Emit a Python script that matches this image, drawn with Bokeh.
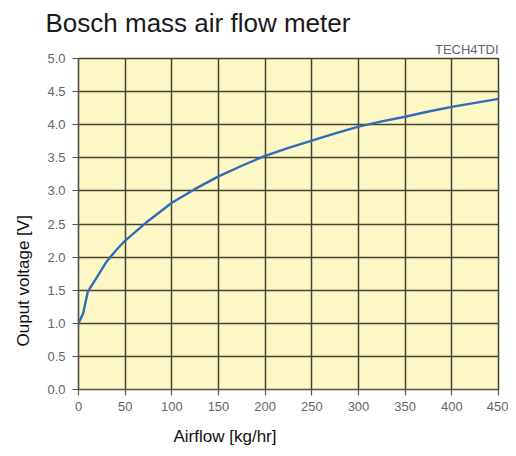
from bokeh.plotting import figure
from bokeh.models import Title, FixedTicker, NumeralTickFormatter, Range1d
from bokeh.embed import file_html
from bokeh.resources import INLINE

airflow = [0, 5, 10, 20, 30, 40, 50, 60, 75, 100, 125, 150, 175, 200, 225, 250,
           275, 300, 325, 350, 375, 400, 425, 450]
voltage = [1.0, 1.15, 1.48, 1.7, 1.93, 2.1, 2.25, 2.37, 2.55, 2.82, 3.03, 3.22,
           3.38, 3.53, 3.65, 3.76, 3.87, 3.97, 4.05, 4.12, 4.2, 4.27, 4.33, 4.39]
x_ticks = [0, 50, 100, 150, 200, 250, 300, 350, 400, 450]
y_ticks = [0.0, 0.5, 1.0, 1.5, 2.0, 2.5, 3.0, 3.5, 4.0, 4.5, 5.0]

FONT = "Liberation Sans"
GRID = "#45432f"

p = figure(width=508, height=456, output_backend="svg", toolbar_location=None,
           x_range=Range1d(0, 450), y_range=Range1d(0, 5),
           min_border_left=78, min_border_right=10, min_border_bottom=66,
           min_border_top=58, background_fill_color="#fdf7c6",
           border_fill_color="white")

p.title = Title(text="Bosch mass air flow meter", align="left", offset=-33,
                text_font=FONT, text_font_size="26px",
                text_font_style="normal", text_color="#1a1a1a", standoff=2)
p.add_layout(Title(text="TECH4TDI", align="right", text_font=FONT,
                   text_font_size="13px", text_font_style="normal",
                   text_color="#666666", standoff=3), "above")

p.line(airflow, voltage, line_color="#2f6db5", line_width=2.4)

p.outline_line_color = GRID
p.outline_line_width = 1.5

for g in (p.xgrid, p.ygrid):
    g.grid_line_color = GRID
    g.grid_line_width = 1.5
    g.grid_line_alpha = 1.0

p.xaxis.ticker = FixedTicker(ticks=x_ticks)
p.yaxis.ticker = FixedTicker(ticks=y_ticks)
p.xgrid.ticker = FixedTicker(ticks=x_ticks)
p.ygrid.ticker = FixedTicker(ticks=y_ticks)
p.yaxis.formatter = NumeralTickFormatter(format="0.0")

for ax in (p.xaxis, p.yaxis):
    ax.axis_line_color = "#555555"
    ax.axis_line_width = 1.2
    ax.major_tick_line_color = "#555555"
    ax.major_tick_line_width = 1.2
    ax.major_tick_in = 0
    ax.major_tick_out = 6
    ax.minor_tick_line_color = None
    ax.major_label_text_font = FONT
    ax.major_label_text_font_size = "13px"
    ax.major_label_text_color = "#666666"

p.xaxis.major_label_standoff = 6
p.yaxis.major_label_standoff = 7

# axis titles, placed off-centre as in the original
p.add_layout(Title(text="Airflow [kg/hr]", align="left", offset=95,
                   text_font=FONT, text_font_size="17px",
                   text_font_style="normal", text_color="#111111",
                   standoff=22), "below")
p.add_layout(Title(text="Ouput voltage [V]", align="left", offset=43,
                   text_font=FONT, text_font_size="17px",
                   text_font_style="normal", text_color="#111111",
                   standoff=23), "left")

open("out.html", "w").write(file_html(p, INLINE))
